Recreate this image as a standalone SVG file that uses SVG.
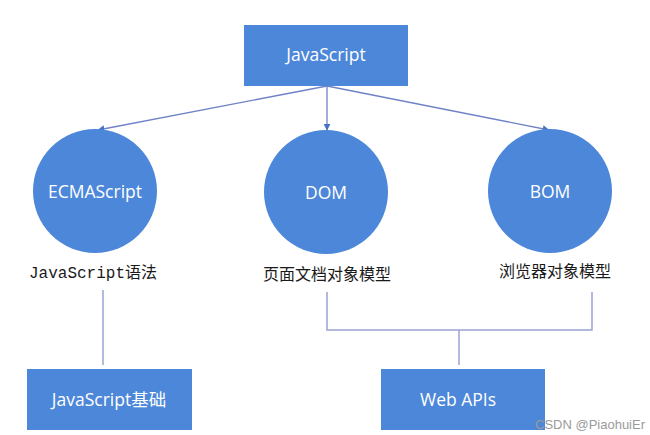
<svg xmlns="http://www.w3.org/2000/svg" width="650" height="435" viewBox="0 0 650 435">
<defs>
<style>
.box{fill:#4d87d9;}
.circ{fill:#4d87d9;}
.t{font-family:"Open Sans","Noto Sans","Noto Sans CJK SC",sans-serif;font-size:17.5px;fill:#ffffff;text-anchor:middle;}
.lbl{font-family:"Noto Sans CJK SC","Noto Sans",sans-serif;font-size:16px;fill:#1a1a1a;text-anchor:middle;}
.mono{font-family:"Liberation Mono","Noto Sans CJK SC",monospace;}
.arr{stroke:#6f82c6;stroke-width:1.3;fill:none;}
.ln{stroke:#9aa3d4;stroke-width:1.5;fill:none;}
.wm{font-family:"Liberation Sans","Noto Sans",sans-serif;font-size:13px;fill:#9a9a9a;}
</style>
<marker id="ah" viewBox="0 0 10 10" refX="9" refY="5" markerWidth="7" markerHeight="7" markerUnits="userSpaceOnUse" orient="auto">
<path d="M0,0 L10,5 L0,10 z" fill="#4472c4"/>
</marker>
</defs>
<rect width="650" height="435" fill="#ffffff"/>
<g id="connectors">
<line class="arr" x1="327" y1="86" x2="98" y2="130" marker-end="url(#ah)"/>
<line class="arr" x1="327" y1="86" x2="327" y2="130" marker-end="url(#ah)"/>
<line class="arr" x1="327" y1="86" x2="549" y2="130" marker-end="url(#ah)"/>
<line class="ln" x1="103" y1="290" x2="103" y2="365"/>
<polyline class="ln" points="327,292 327,330 592,330 592,292"/>
<line class="ln" x1="459" y1="330" x2="459" y2="365"/>
</g>
<g id="javascript">
<rect class="box" x="244" y="25" width="164" height="61"/>
<text class="t" x="326" y="61">JavaScript</text>
</g>
<g id="ecmascript">
<circle class="circ" cx="95" cy="191" r="62"/>
<text class="t" x="95" y="198">ECMAScript</text>
<text class="lbl" x="93" y="278"><tspan class="mono">JavaScript</tspan>语法</text>
</g>
<g id="dom">
<circle class="circ" cx="326" cy="192" r="62"/>
<text class="t" x="326" y="199">DOM</text>
<text class="lbl" x="327" y="280">页面文档对象模型</text>
</g>
<g id="bom">
<circle class="circ" cx="550" cy="191" r="62"/>
<text class="t" x="550" y="198">BOM</text>
<text class="lbl" x="555" y="277">浏览器对象模型</text>
</g>
<g id="jsbase">
<rect class="box" x="27" y="369" width="165" height="61"/>
<text class="t" x="109" y="406">JavaScript基础</text>
</g>
<g id="webapis">
<rect class="box" x="381" y="369" width="164" height="61"/>
<text class="t" x="458" y="406">Web APIs</text>
</g>
<text class="wm" x="535" y="429">CSDN @PiaohuiEr</text>
</svg>
